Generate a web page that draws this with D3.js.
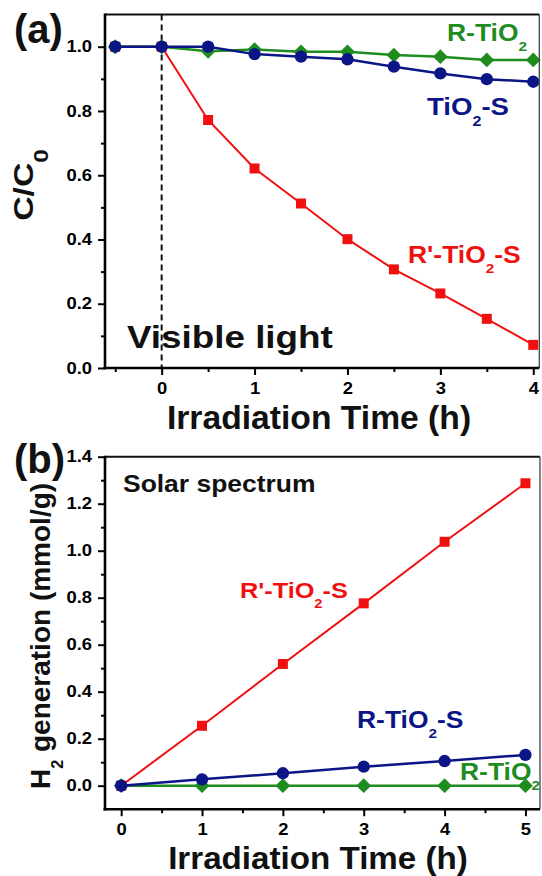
<!DOCTYPE html>
<html>
<head>
<meta charset="utf-8">
<script src="https://cdn.jsdelivr.net/npm/d3@7"></script>
<style>
  body { margin: 0; background: #fff; }
  text { font-family: "Liberation Sans", Arial, sans-serif; font-weight: bold; }
</style>
</head>
<body>
<svg id="chart" width="542" height="876"></svg>
<script>
// ---- panel (a): dye degradation, visible light ----
var timeA = [-0.5, 0, 0.5, 1, 1.5, 2, 2.5, 3, 3.5, 4];
var rPrimeA = [1.0, 1.0, 0.772, 0.621, 0.512, 0.401, 0.307, 0.232, 0.153, 0.072]; // R'-TiO2-S
var rTiO2A  = [1.0, 1.0, 0.986, 0.991, 0.984, 0.984, 0.974, 0.969, 0.959, 0.959]; // R-TiO2
var tiO2SA  = [1.0, 1.0, 1.0, 0.977, 0.969, 0.961, 0.938, 0.917, 0.899, 0.891];   // TiO2-S
var xTicksA = [0, 1, 2, 3, 4];
var xMinorA = [-0.5, 0.5, 1.5, 2.5, 3.5];
var yTicksA = [0, 0.2, 0.4, 0.6, 0.8, 1.0];
var yMinorA = [0.1, 0.3, 0.5, 0.7, 0.9];

// ---- panel (b): H2 generation, solar spectrum ----
var timeB = [0, 1, 2, 3, 4, 5];
var rPrimeB = [0, 0.255, 0.518, 0.776, 1.038, 1.287]; // R'-TiO2-S
var rTiO2SB = [0, 0.027, 0.053, 0.081, 0.105, 0.131]; // R-TiO2-S
var rTiO2B  = [0, 0, 0, 0, 0, 0];                     // R-TiO2
var xTicksB = [0, 1, 2, 3, 4, 5];
var xMinorB = [0.5, 1.5, 2.5, 3.5, 4.5];
var yTicksB = [0, 0.2, 0.4, 0.6, 0.8, 1.0, 1.2, 1.4];
var yMinorB = [0.1, 0.3, 0.5, 0.7, 0.9, 1.1, 1.3];

var RED = "#f01010", GREEN = "#1f8c1f", NAVY = "#0b1585";
var SX = 1.15; // the figure text is a bit wide

var svg = d3.select("#chart");

// text with {x} as subscript
function label(g, x, y, str, size, color, o) {
    o = o || {};
    var t = g.append("text")
        .attr("transform", "translate(" + x + "," + y + ")" + (o.rot ? " rotate(" + o.rot + ")" : "") +
            " scale(" + (o.sx || SX) + "," + (o.sy || 1) + ")")
        .attr("text-anchor", o.anchor || "start")
        .attr("fill", color || "#000")
        .style("font-size", size + "px");
    var parts = str.split(/(\{[^}]*\})/);
    var shift = (o.subShift || 0.45) * size, down = false;
    parts.forEach(function(p) {
        if (!p) return;
        if (p[0] === "{") {
            t.append("tspan").attr("dy", shift).style("font-size", (o.subSize || 0.58) * size + "px").text(p.slice(1, -1));
            down = true;
        } else {
            t.append("tspan").attr("dy", down ? -shift : 0).text(p);
            down = false;
        }
    });
    return t;
}

function axes(g, x, y, c) {
    var x0 = x.range()[0], x1 = x.range()[1], y0 = y.range()[0], y1 = y.range()[1];
    var bottom = g.append("g").attr("transform", "translate(0," + y0 + ")");
    bottom.call(d3.axisBottom(x).tickValues(c.xt).tickSize(7).tickSizeOuter(0).tickFormat(d3.format("d")));
    bottom.append("g").call(d3.axisBottom(x).tickValues(c.xm).tickSize(4).tickSizeOuter(0).tickFormat(""));
    var left = g.append("g").attr("transform", "translate(" + x0 + ",0)");
    left.call(d3.axisLeft(y).tickValues(c.yt).tickSize(7).tickSizeOuter(0).tickFormat(d3.format(".1f")));
    left.append("g").call(d3.axisLeft(y).tickValues(c.ym).tickSize(4).tickSizeOuter(0).tickFormat(""));
    g.selectAll(".domain").remove();
    g.selectAll(".tick line").attr("stroke", "#000").attr("stroke-width", 2);
    bottom.selectAll(".tick text").attr("y", 0).attr("dy", 26).attr("fill", "#000")
        .attr("font-family", null).attr("font-size", null).style("font-size", "16px")
        .attr("transform", "scale(" + SX + ",1)");
    left.selectAll(".tick text").attr("x", -13 / SX).attr("fill", "#000")
        .attr("font-family", null).attr("font-size", null).style("font-size", "16px")
        .attr("transform", "scale(" + SX + ",1)");
    // frame
    g.append("line").attr("x1", x0).attr("x2", x1).attr("y1", y1).attr("y2", y1).attr("stroke", "#111").attr("stroke-width", 2);
    g.append("line").attr("x1", x1).attr("x2", x1).attr("y1", y1).attr("y2", y0).attr("stroke", "#444").attr("stroke-width", 1.3);
    g.append("line").attr("x1", x0 - 1.5).attr("x2", x1).attr("y1", y0).attr("y2", y0).attr("stroke", "#000").attr("stroke-width", 2.6);
    g.append("line").attr("x1", x0).attr("x2", x0).attr("y1", y1 - 1).attr("y2", y0 + 1.3).attr("stroke", "#000").attr("stroke-width", 2.6);
}

function series(g, x, y, xs, ys, color, shape, width) {
    var pts = xs.map(function(d, i) { return [d, ys[i]]; });
    var line = d3.line().x(function(d) { return x(d[0]); }).y(function(d) { return y(d[1]); });
    g.append("path").attr("d", line(pts)).attr("fill", "none").attr("stroke", color).attr("stroke-width", width);
    var sym = d3.symbol().type(shape === "square" ? d3.symbolSquare : shape === "diamond" ? d3.symbolDiamond2 : d3.symbolCircle)
        .size(shape === "square" ? 100 : shape === "diamond" ? 140 : 120);
    g.selectAll(null).data(pts).enter().append("path")
        .attr("d", sym)
        .attr("transform", function(d) { return "translate(" + x(d[0]) + "," + y(d[1]) + ")"; })
        .attr("fill", color);
}

// ===== (a) =====
var ga = svg.append("g");
var xa = d3.scaleLinear().domain([-0.61, 4.065]).range([105, 539.3]);
var ya = d3.scaleLinear().domain([0, 1.1]).range([368, 14.6]);

ga.append("line").attr("x1", xa(0)).attr("x2", xa(0)).attr("y1", ya(1.1)).attr("y2", ya(0))
    .attr("stroke", "#111").attr("stroke-width", 2).attr("stroke-dasharray", "6,4");
series(ga, xa, ya, timeA, rPrimeA, RED, "square", 2);
series(ga, xa, ya, timeA, rTiO2A, GREEN, "diamond", 2.5);
series(ga, xa, ya, timeA, tiO2SA, NAVY, "circle", 2.5);
axes(ga, xa, ya, { xt: xTicksA, xm: xMinorA, yt: yTicksA, ym: yMinorA });

label(ga, 447, 41, "R-TiO{2}", 23, GREEN);
label(ga, 427, 115, "TiO{2}-S", 24, NAVY);
label(ga, 408, 263, "R'-TiO{2}-S", 23, RED);
label(ga, 127, 348, "Visible light", 32, "#111");
label(ga, 14, 43, "(a)", 40, "#111", { sx: 1 });
label(ga, 319, 429, "Irradiation Time (h)", 33, "#111", { sx: 1.02, anchor: "middle" });
label(ga, 33, 185, "C/C{0}", 27, "#111", { rot: -90, sx: 1.25, anchor: "middle", subSize: 0.72, subShift: 0.55 });

// ===== (b) =====
var gb = svg.append("g");
var xb = d3.scaleLinear().domain([-0.2, 5.18]).range([105, 540]);
var yb = d3.scaleLinear().domain([-0.1, 1.4]).range([809.2, 456.7]);

series(gb, xb, yb, timeB, rPrimeB, RED, "square", 2);
series(gb, xb, yb, timeB, rTiO2B, GREEN, "diamond", 2.5);
series(gb, xb, yb, timeB, rTiO2SB, NAVY, "circle", 2.5);
axes(gb, xb, yb, { xt: xTicksB, xm: xMinorB, yt: yTicksB, ym: yMinorB });

label(gb, 123, 492, "Solar spectrum", 23, "#111");
label(gb, 240, 598, "R'-TiO{2}-S", 22, RED);
label(gb, 357, 728, "R-TiO{2}-S", 23, NAVY);
label(gb, 460, 780, "R-TiO{2}", 23, GREEN);
label(gb, 14, 473, "(b)", 40, "#111", { sx: 1 });
label(gb, 318, 869, "Irradiation Time (h)", 31, "#111", { sx: 1.07, anchor: "middle" });
label(gb, 50, 636, "H{2} generation (mmol/g)", 28, "#111", { rot: -90, sx: 1, anchor: "middle" });
</script>
</body>
</html>
